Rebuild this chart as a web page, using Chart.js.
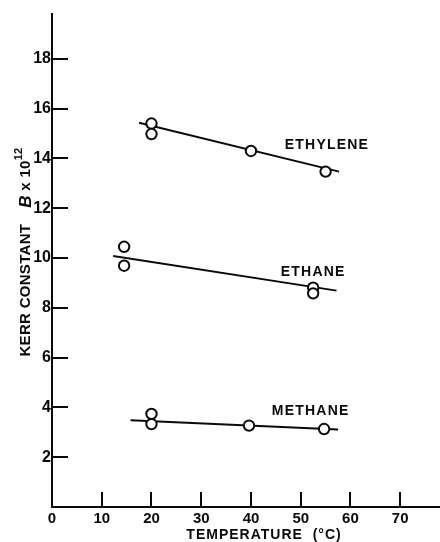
<!DOCTYPE html>
<html><head><meta charset="utf-8">
<script src="https://cdn.jsdelivr.net/npm/chart.js@4.4.1/dist/chart.umd.min.js"></script>
<style>html,body{margin:0;padding:0;background:#fff}#wrap{width:440px;height:542px}</style>
</head><body><div id="wrap"><canvas id="c" width="440" height="542"></canvas></div>
<script>
// ---- data ----
const xTickLabels = [0, 10, 20, 30, 40, 50, 60, 70];
const yTickLabels = [2, 4, 6, 8, 10, 12, 14, 16, 18];

const ethyleneT = [20, 20, 40, 55];
const ethyleneB = [15.4, 14.98, 14.3, 13.47];
const ethyleneFitT = [17.5, 57.7];
const ethyleneFitB = [15.43, 13.47];

const ethaneT = [14.5, 14.5, 52.5, 52.5];
const ethaneB = [10.45, 9.69, 8.81, 8.58];
const ethaneFitT = [12.3, 57.2];
const ethaneFitB = [10.08, 8.69];

const methaneT = [20, 20, 39.6, 54.7];
const methaneB = [3.74, 3.33, 3.27, 3.13];
const methaneFitT = [15.8, 57.5];
const methaneFitB = [3.48, 3.11];

const seriesNames = ['ETHYLENE', 'ETHANE', 'METHANE'];
const labelAnchorT = [46.8, 46.0, 44.2];
const labelAnchorB = [14.54, 9.43, 3.85];

const xTitle = 'TEMPERATURE  (\u00B0C)';
const yTitleMain = 'KERR CONSTANT';
const yTitleSym = 'B';
const yTitleRest = 'x 10';
const yTitleExp = '12';

// ---- build ----
const INK = '#0a0a0a';
const FONT = '"Liberation Sans", Arial, sans-serif';
const pts = (xs, ys) => xs.map((x, i) => ({x, y: ys[i]}));

function pointSet(xs, ys) {
  return {type: 'scatter', data: pts(xs, ys), pointStyle: 'circle', pointRadius: 5.2,
    pointBackgroundColor: '#fff', pointBorderColor: INK, pointBorderWidth: 2, showLine: false, order: 1};
}
function fitSet(xs, ys) {
  return {type: 'line', data: pts(xs, ys), borderColor: INK, borderWidth: 2, pointRadius: 0, fill: false, order: 2};
}

const decor = {
  id: 'decor',
  afterDatasetsDraw(chart) {
    const {ctx, chartArea, scales: {x, y}} = chart;
    ctx.save();
    ctx.strokeStyle = INK; ctx.lineWidth = 2;
    // inside ticks
    xTickLabels.filter(v => v > 0).forEach(v => {
      const px = Math.round(x.getPixelForValue(v));
      ctx.beginPath(); ctx.moveTo(px, chartArea.bottom); ctx.lineTo(px, chartArea.bottom - 15); ctx.stroke();
    });
    yTickLabels.forEach(v => {
      const py = Math.round(y.getPixelForValue(v));
      ctx.beginPath(); ctx.moveTo(chartArea.left, py); ctx.lineTo(chartArea.left + 16, py); ctx.stroke();
    });
    // series names
    ctx.fillStyle = INK;
    ctx.font = 'bold 14px ' + FONT;
    ctx.textBaseline = 'middle'; ctx.textAlign = 'left';
    try { ctx.letterSpacing = '1.2px'; } catch (e) {}
    seriesNames.forEach((n, i) => {
      ctx.fillText(n, x.getPixelForValue(labelAnchorT[i]), y.getPixelForValue(labelAnchorB[i]));
    });
    // x title
    ctx.font = 'bold 14px ' + FONT;
    try { ctx.letterSpacing = '1px'; } catch (e) {}
    ctx.textAlign = 'center';
    ctx.fillText(xTitle, 264, 535);
    try { ctx.letterSpacing = '0.3px'; } catch (e) {}
    // y title (rotated)
    ctx.translate(26, 252);
    ctx.rotate(-Math.PI / 2);
    ctx.textAlign = 'left';
    const f1 = 'bold 15px ' + FONT, f2 = 'italic bold 17px ' + FONT, f3 = 'bold 15px ' + FONT, f4 = 'bold 11px ' + FONT;
    ctx.font = f1; const w1 = ctx.measureText(yTitleMain).width;
    ctx.font = f2; const w2 = ctx.measureText(yTitleSym).width;
    ctx.font = f3; const w3 = ctx.measureText(' ' + yTitleRest).width;
    ctx.font = f4; const w4 = ctx.measureText(yTitleExp).width;
    const gap = 16;
    let cx = -(w1 + gap + w2 + w3 + w4) / 2;
    ctx.font = f1; ctx.fillText(yTitleMain, cx, 0); cx += w1 + gap;
    ctx.font = f2; ctx.fillText(yTitleSym, cx, 0); cx += w2;
    ctx.font = f3; ctx.fillText(' ' + yTitleRest, cx, 0); cx += w3;
    ctx.font = f4; ctx.fillText(yTitleExp, cx, -7);
    ctx.restore();
  }
};

new Chart(document.getElementById('c'), {
  data: {
    datasets: [
      pointSet(ethyleneT, ethyleneB), fitSet(ethyleneFitT, ethyleneFitB),
      pointSet(ethaneT, ethaneB), fitSet(ethaneFitT, ethaneFitB),
      pointSet(methaneT, methaneB), fitSet(methaneFitT, methaneFitB)
    ]
  },
  options: {
    responsive: false, animation: false, devicePixelRatio: 1,
    layout: {autoPadding: false, padding: {top: 14, right: 0, left: 0, bottom: 0}},
    plugins: {legend: {display: false}, tooltip: {enabled: false}},
    scales: {
      x: {
        type: 'linear', min: 0, max: 78,
        afterBuildTicks: s => { s.ticks = xTickLabels.map(v => ({value: v})); },
        afterFit: s => { s.height = 35; },
        grid: {display: true, drawOnChartArea: false, drawTicks: false},
        border: {display: true, width: 2, color: INK},
        ticks: {color: INK, font: {family: FONT, size: 15, weight: 'bold'}, padding: 3, maxRotation: 0, autoSkip: false}
      },
      y: {
        type: 'linear', min: 0, max: 19.8,
        afterBuildTicks: s => { s.ticks = yTickLabels.map(v => ({value: v})); },
        afterFit: s => { s.width = 52; },
        grid: {display: true, drawOnChartArea: false, drawTicks: false},
        border: {display: true, width: 2, color: INK},
        ticks: {color: INK, font: {family: FONT, size: 16, weight: 'bold'}, padding: 1, autoSkip: false}
      }
    }
  },
  plugins: [decor]
});
</script></body></html>
